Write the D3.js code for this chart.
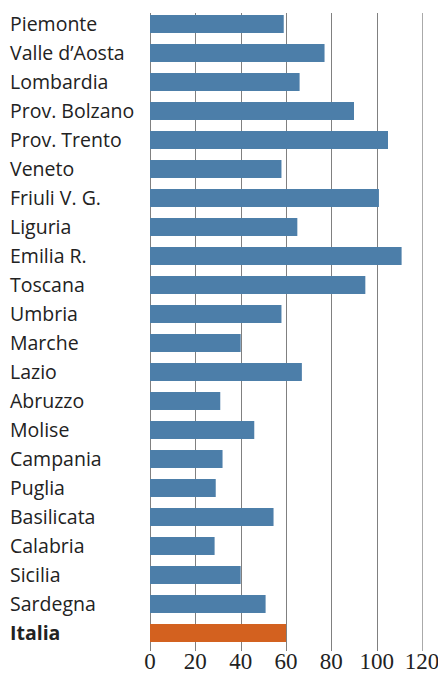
<!DOCTYPE html>
<html>
<head>
<meta charset="utf-8">
<script src="https://cdn.jsdelivr.net/npm/d3@7"></script>
<style>
  html, body { margin: 0; padding: 0; background: #fff; }
  svg { display: block; }
</style>
</head>
<body>
<svg id="chart" width="438" height="675"></svg>
<script>
const regions = ['Piemonte', "Valle d\u2019Aosta", 'Lombardia', 'Prov. Bolzano', 'Prov. Trento',
    'Veneto', 'Friuli V. G.', 'Liguria', 'Emilia R.', 'Toscana', 'Umbria', 'Marche', 'Lazio',
    'Abruzzo', 'Molise', 'Campania', 'Puglia', 'Basilicata', 'Calabria', 'Sicilia', 'Sardegna', 'Italia'];
const values = [59, 77, 66, 90, 105, 58, 101, 65, 111, 95, 58, 40, 67,
    31, 46, 32, 29, 54.5, 28.5, 40, 51, 60];
const ticks = [0, 20, 40, 60, 80, 100, 120];

const data = regions.map((r, i) => ({ name: r, value: values[i], total: r === 'Italia' }));

const svg = d3.select('#chart');

const x = d3.scaleLinear().domain([0, 120]).range([150, 422]);
const y = d3.scaleBand()
    .domain(regions)
    .range([9.5, 647.5])
    .paddingInner(0.38)
    .paddingOuter(0.19);

// gridlines
svg.append('g')
    .selectAll('line')
    .data(ticks)
    .enter()
    .append('line')
    .attr('x1', d => Math.round(x(d)) + 0.5)
    .attr('x2', d => Math.round(x(d)) + 0.5)
    .attr('y1', 13)
    .attr('y2', 651)
    .style('stroke', d => d === 120 ? '#aaa' : '#808080')
    .style('stroke-width', 1);

// bars
svg.append('g')
    .selectAll('rect')
    .data(data)
    .enter()
    .append('rect')
    .attr('x', x(0))
    .attr('y', d => y(d.name))
    .attr('width', d => x(d.value) - x(0))
    .attr('height', y.bandwidth())
    .style('fill', d => d.total ? '#d3611f' : '#4c7ea9');

// region labels
svg.append('g')
    .selectAll('text')
    .data(data)
    .enter()
    .append('text')
    .attr('x', 10)
    .attr('y', d => y(d.name) + y.bandwidth() / 2 + 7)
    .text(d => d.name)
    .style('font-family', '"Open Sans", sans-serif')
    .style('font-size', '19.5px')
    .style('font-weight', d => d.total ? 700 : 400)
    .style('fill', '#222');

// x axis labels
svg.append('g')
    .selectAll('text')
    .data(ticks)
    .enter()
    .append('text')
    .attr('x', d => x(d))
    .attr('y', 669)
    .attr('text-anchor', 'middle')
    .text(d => d)
    .style('font-family', '"Liberation Serif", serif')
    .style('font-size', '23px')
    .style('fill', '#222');
</script>
</body>
</html>
